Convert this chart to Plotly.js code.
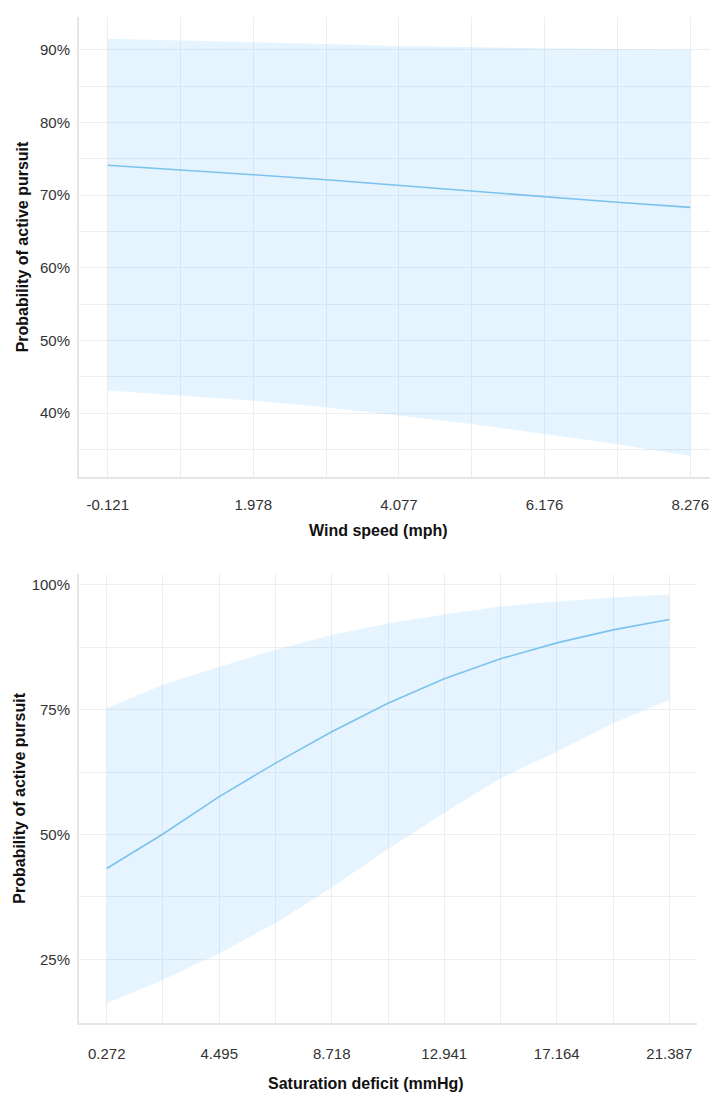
<!DOCTYPE html>
<html>
<head>
<meta charset="utf-8">
<script src="https://cdn.plot.ly/plotly-3.0.1.min.js"></script>
<style>html,body{margin:0;padding:0;background:#fff;}#chart{width:710px;height:1094px;}</style>
</head>
<body>
<div id="chart"></div>
<script>
// Top panel: wind speed
var windX = [-0.121, 0.929, 1.978, 3.028, 4.077, 5.127, 6.176, 7.226, 8.276];
var windFit = [74.1, 73.5, 72.8, 72.1, 71.3, 70.5, 69.7, 69.0, 68.3];
var windLower = [43.1, 42.4, 41.7, 40.8, 39.7, 38.5, 37.1, 35.7, 34.1];
var windUpper = [91.5, 91.3, 91.0, 90.8, 90.5, 90.3, 90.2, 90.1, 90.0];
var windTicks = [-0.121, 1.978, 4.077, 6.176, 8.276];
var windTickText = ["-0.121", "1.978", "4.077", "6.176", "8.276"];

// Bottom panel: saturation deficit
var satX = [0.272, 2.384, 4.495, 6.607, 8.718, 10.830, 12.941, 15.053, 17.164, 19.276, 21.387];
var satFit = [43.2, 50.1, 57.6, 64.3, 70.6, 76.3, 81.2, 85.2, 88.4, 91.0, 93.1];
var satLower = [16.2, 20.9, 26.2, 32.3, 39.4, 47.1, 54.3, 61.3, 66.6, 72.3, 77.0];
var satUpper = [75.3, 80.0, 83.6, 87.0, 90.0, 92.3, 94.1, 95.7, 96.7, 97.5, 98.1];
var satTicks = [0.272, 4.495, 8.718, 12.941, 17.164, 21.387];
var satTickText = ["0.272", "4.495", "8.718", "12.941", "17.164", "21.387"];

function mids(a){ var m=[]; for (var i=0;i<a.length-1;i++) m.push((a[i]+a[i+1])/2); return m; }

var FILL = 'rgba(135,206,250,0.22)';
var LINE = '#7cc2ee';
var FONT = 'Liberation Sans, Arial, Helvetica, sans-serif';

var traces = [
  {x: windX, y: windLower, xaxis:'x', yaxis:'y', mode:'lines', line:{width:0, color:FILL}, hoverinfo:'skip', showlegend:false},
  {x: windX, y: windUpper, xaxis:'x', yaxis:'y', mode:'lines', fill:'tonexty', fillcolor:FILL, line:{width:0, color:FILL}, hoverinfo:'skip', showlegend:false},
  {x: windX, y: windFit, xaxis:'x', yaxis:'y', mode:'lines', line:{width:1.6, color:LINE}, showlegend:false},
  {x: satX, y: satLower, xaxis:'x2', yaxis:'y2', mode:'lines', line:{width:0, color:FILL}, hoverinfo:'skip', showlegend:false},
  {x: satX, y: satUpper, xaxis:'x2', yaxis:'y2', mode:'lines', fill:'tonexty', fillcolor:FILL, line:{width:0, color:FILL}, hoverinfo:'skip', showlegend:false},
  {x: satX, y: satFit, xaxis:'x2', yaxis:'y2', mode:'lines', line:{width:1.6, color:LINE}, showlegend:false}
];

var GRID = '#eeeeee';
var AXL = '#e6e6e6';
var tickFont = {family: FONT, size: 15, color: '#333'};
var titleFont = {family: FONT, size: 16, color: '#111', weight: 'bold'};

var H = 1094, W = 710;
function yd(top, bottom){ return [(H-bottom)/H, (H-top)/H]; }

var layout = {
  width: W, height: H,
  margin: {l:0, r:0, t:0, b:0},
  paper_bgcolor: '#fff', plot_bgcolor: '#fff',
  showlegend: false,
  xaxis: {
    domain: [79/W, 1], anchor: 'y',
    range: [-0.535, 8.561],
    tickvals: windTicks, ticktext: windTickText,
    ticks: '', ticklabelstandoff: 13,
    showgrid: true, gridcolor: GRID, gridwidth: 1,
    minor: {tickvals: mids(windTicks), showgrid: true, gridcolor: GRID, gridwidth: 1},
    showline: true, linecolor: AXL, linewidth: 2,
    zeroline: false, tickfont: tickFont
  },
  yaxis: {
    domain: yd(17, 477), anchor: 'x',
    range: [31.2, 94.5],
    tick0: 0, dtick: 10, ticksuffix: '%',
    ticks: '', ticklabelstandoff: 4,
    showgrid: true, gridcolor: GRID, gridwidth: 1,
    minor: {tick0: 5, dtick: 10, showgrid: true, gridcolor: GRID, gridwidth: 1},
    showline: true, linecolor: AXL, linewidth: 2,
    zeroline: false, tickfont: tickFont,
    title: {text: 'Probability of active pursuit', font: titleFont, standoff: 7}
  },
  xaxis2: {
    domain: [79/W, 697/W], anchor: 'y2',
    range: [-0.768, 22.427],
    tickvals: satTicks, ticktext: satTickText,
    ticks: '', ticklabelstandoff: 16,
    showgrid: true, gridcolor: GRID, gridwidth: 1,
    minor: {tickvals: mids(satTicks), showgrid: true, gridcolor: GRID, gridwidth: 1},
    showline: true, linecolor: AXL, linewidth: 2,
    zeroline: false, tickfont: tickFont
  },
  yaxis2: {
    domain: yd(574, 1022.7), anchor: 'x2',
    range: [12.3, 102.2],
    tick0: 0, dtick: 25, ticksuffix: '%',
    ticks: '', ticklabelstandoff: 4,
    showgrid: true, gridcolor: GRID, gridwidth: 1,
    minor: {tick0: 12.5, dtick: 25, showgrid: true, gridcolor: GRID, gridwidth: 1},
    showline: true, linecolor: AXL, linewidth: 2,
    zeroline: false, tickfont: tickFont,
    title: {text: 'Probability of active pursuit', font: titleFont, standoff: 2}
  },
  annotations: [
    {text: 'Wind speed (mph)', xref: 'paper', yref: 'paper', x: 379/W, y: (H-530)/H, xanchor: 'center', yanchor: 'middle', showarrow: false, font: titleFont},
    {text: 'Saturation deficit (mmHg)', xref: 'paper', yref: 'paper', x: 366/W, y: (H-1083)/H, xanchor: 'center', yanchor: 'middle', showarrow: false, font: titleFont}
  ]
};

Plotly.newPlot('chart', traces, layout, {displayModeBar: false, staticPlot: true});
</script>
</body>
</html>
